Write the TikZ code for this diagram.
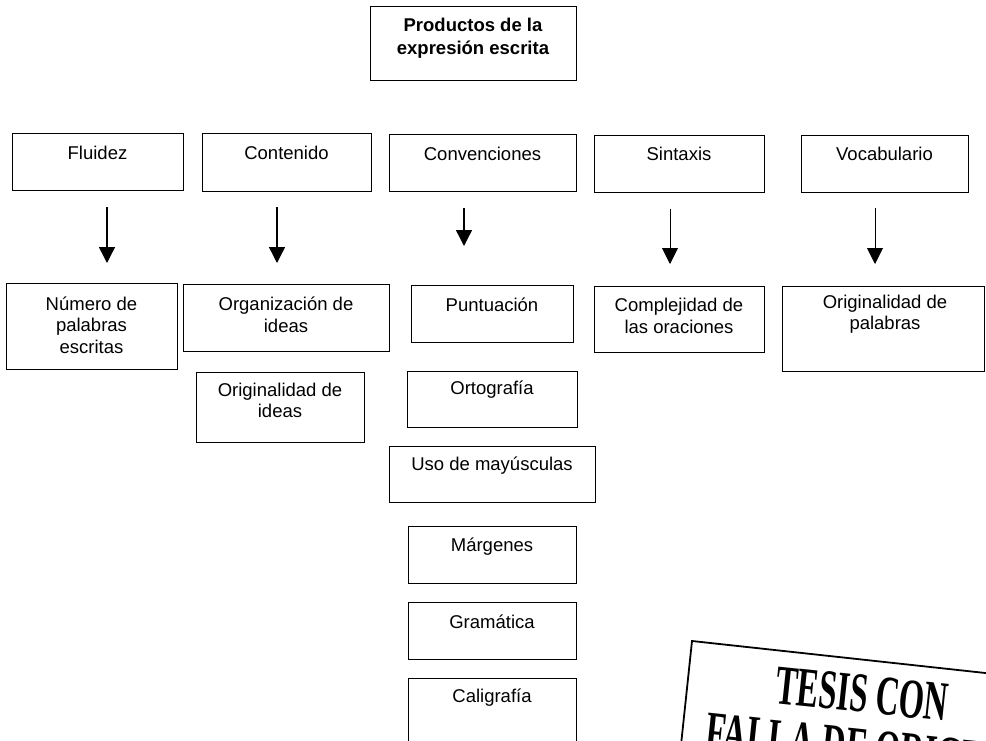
\documentclass[tikz,border=0pt]{standalone}
\usepackage{fontspec}
\setmainfont{Liberation Sans}
\newfontfamily\stampfont{Liberation Serif}
\usetikzlibrary{arrows.meta}
\begin{document}
\begin{tikzpicture}[x=1pt,y=-1pt,
  box/.style={draw, line width=1pt, inner sep=0pt},
  lab/.style={inner sep=0pt, align=center, font=\fontsize{18.5}{21.5}\selectfont},
  blab/.style={lab, font=\fontsize{18.5}{23}\selectfont\bfseries},
  arrthick/.style={-{Triangle[width=16pt,length=16pt]}, line width=1.4pt},
  arrthin/.style={-{Triangle[width=16pt,length=16pt]}, line width=0.9pt},
  stamptext/.style={inner sep=0pt, rotate=-6, font=\stampfont\bfseries\fontsize{56}{56}\selectfont}]
\useasboundingbox (0,0) rectangle (986,740);
\clip (0,0) rectangle (986,740);

% title
\node[box, minimum width=206, minimum height=74] (top) at (473,43) {};
\node[blab] (topt) at (473,38.5) {Productos de la\\expresión escrita};

% row 1
\node[box, minimum width=171, minimum height=57] (fl) at (97.5,161.5) {};
\node[lab] (flt) at (97.5,153) {Fluidez};
\node[box, minimum width=169, minimum height=58] (co) at (286.5,162) {};
\node[lab] (cot) at (286.5,153) {Contenido};
\node[box, minimum width=187, minimum height=57] (cv) at (482.5,162.5) {};
\node[lab] (cvt) at (482.5,154) {Convenciones};
\node[box, minimum width=170, minimum height=57] (si) at (679,163.5) {};
\node[lab] (sit) at (679,154) {Sintaxis};
\node[box, minimum width=167, minimum height=57] (vo) at (884.5,163.5) {};
\node[lab] (vot) at (884.5,154) {Vocabulario};

% row 2
\node[box, minimum width=171, minimum height=86] (nu) at (91.5,326) {};
\node[lab] (nut) at (91.5,325) {Número de\\palabras\\escritas};
\node[box, minimum width=206, minimum height=67] (or) at (286,317.5) {};
\node[lab] (ort) at (286,315) {Organización de\\ideas};
\node[box, minimum width=162, minimum height=57] (pu) at (492,313.5) {};
\node[lab] (put) at (492,305) {Puntuación};
\node[box, minimum width=170, minimum height=66] (cx) at (679,319) {};
\node[lab] (cxt) at (679,316) {Complejidad de\\las oraciones};
\node[box, minimum width=202, minimum height=85] (op) at (883,328.5) {};
\node[lab] (opt) at (885,314) {Originalidad de\\palabras};

% row 3 and below
\node[box, minimum width=168, minimum height=70] (oi) at (280,407) {};
\node[lab] (oit) at (280,400.5) {Originalidad de\\ideas};
\node[box, minimum width=170, minimum height=56] (ot) at (492,399) {};
\node[lab] (ott) at (492,390) {Ortografía};
\node[box, minimum width=206, minimum height=56] (us) at (492,474) {};
\node[lab] (ust) at (492,466) {Uso de mayúsculas};
\node[box, minimum width=168, minimum height=57] (ma) at (492,554.5) {};
\node[lab] (mat) at (492,547) {Márgenes};
\node[box, minimum width=168, minimum height=57] (gr) at (492,630.5) {};
\node[lab] (grt) at (492,622) {Gramática};
\node[box, minimum width=168, minimum height=82] (ca) at (492,719) {};
\node[lab] (cat) at (492,698) {Caligrafía};

% arrows
\coordinate (flA) at (107,207); \coordinate (flB) at (107,263);
\coordinate (coA) at (277,207); \coordinate (coB) at (277,263);
\coordinate (cvA) at (464,208); \coordinate (cvB) at (464,246);
\coordinate (siA) at (670,209); \coordinate (siB) at (670,264);
\coordinate (voA) at (875,208); \coordinate (voB) at (875,264);
\draw[arrthick] (flA) -- (flB);
\draw[arrthick] (coA) -- (coB);
\draw[arrthick] (cvA) -- (cvB);
\draw[arrthin] (siA) -- (siB);
\draw[arrthin] (voA) -- (voB);

% stamp
\coordinate (stTL) at (692,641);
\coordinate (stTR) at (990,673.5);
\coordinate (stBL) at (681,745);
\draw[line width=1.8pt] (stBL) -- (stTL) -- (stTR);
\node[stamptext] (st1a) at (822.1,689.8) {\scalebox{0.58}[1]{TESIS}};
\node[stamptext] (st1b) at (911.8,699.2) {\scalebox{0.58}[1]{CON}};
\node[stamptext] (st2a) at (760.0,736.9) {\scalebox{0.58}[1]{FALLA}};
\node[stamptext] (st2b) at (845.3,745.9) {\scalebox{0.58}[1]{DE}};
\node[stamptext] (st2c) at (941.2,756.0) {\scalebox{0.58}[1]{ORIGEN}};
\end{tikzpicture}
\end{document}
